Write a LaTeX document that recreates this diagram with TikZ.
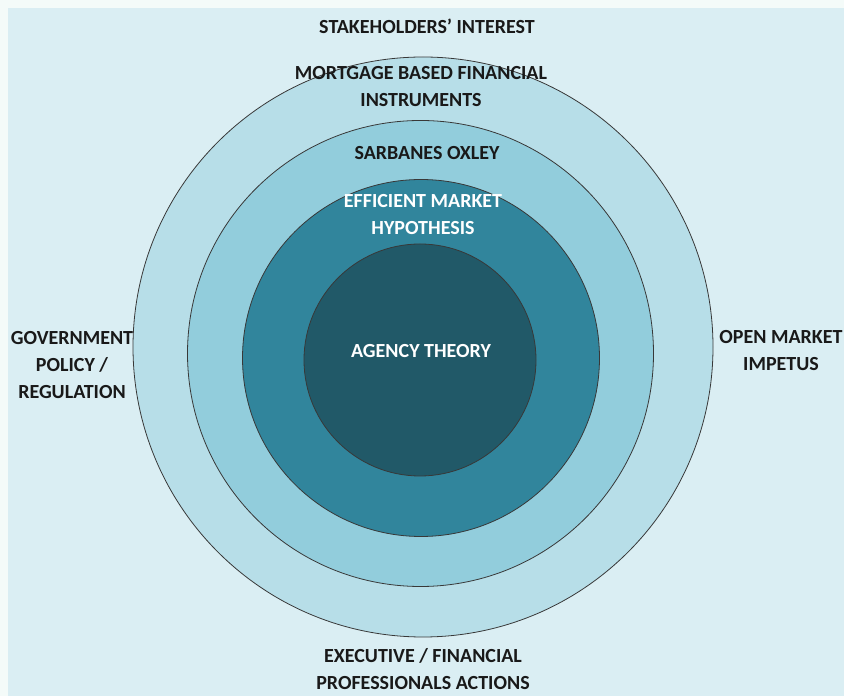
\documentclass[tikz,border=0pt]{standalone}
\usepackage{fontspec}
\setmainfont{Carlito}
\begin{document}
\begin{tikzpicture}[x=1pt,y=1pt,
  ring/.style={draw=black!78, line width=0.8pt},
  label/.style={font=\fontsize{20}{27}\selectfont\bfseries, align=center, inner sep=0pt, text=black!90},
  wlabel/.style={label, text=white}]
  \definecolor{pagebg}{HTML}{F4FBF9}
  \definecolor{panel}{HTML}{DAEEF3}
  \definecolor{ringA}{HTML}{B7DEE8}
  \definecolor{ringB}{HTML}{92CDDC}
  \definecolor{ringC}{HTML}{31859C}
  \definecolor{core}{HTML}{215968}
  % page and panel
  \fill[pagebg] (0,0) rectangle (844,696);
  \useasboundingbox (0,0) rectangle (844,696);
  \fill[panel] (8,0) rectangle (844,688);
  % nested circles
  \node[ring, circle, fill=ringA, minimum size=580pt, inner sep=0pt] (outer) at (423,349) {};
  \node[ring, circle, fill=ringB, minimum size=466pt, inner sep=0pt] (mid) at (420.5,342.5) {};
  \node[ring, circle, fill=ringC, minimum size=357pt, inner sep=0pt] (inner) at (421,338) {};
  \node[ring, circle, fill=core, minimum size=232pt, inner sep=0pt] (corec) at (420,336) {};
  % labels
  \node[label] (stake) at (427,670) {STAKEHOLDERS’ INTEREST};
  \node[label] (mort) at (421,609) {MORTGAGE BASED FINANCIAL\\INSTRUMENTS};
  \node[label] (sox) at (427,543) {SARBANES OXLEY};
  \node[wlabel] (emh) at (423,481.5) {EFFICIENT MARKET\\HYPOTHESIS};
  \node[wlabel] (agency) at (421,345) {AGENCY THEORY};
  \node[label] (gov) at (72,330.5) {GOVERNMENT\\POLICY /\\REGULATION};
  \node[label] (open) at (781,345) {OPEN MARKET\\IMPETUS};
  \node[label] (exec) at (423,26.5) {EXECUTIVE / FINANCIAL\\PROFESSIONALS ACTIONS};
\end{tikzpicture}
\end{document}
